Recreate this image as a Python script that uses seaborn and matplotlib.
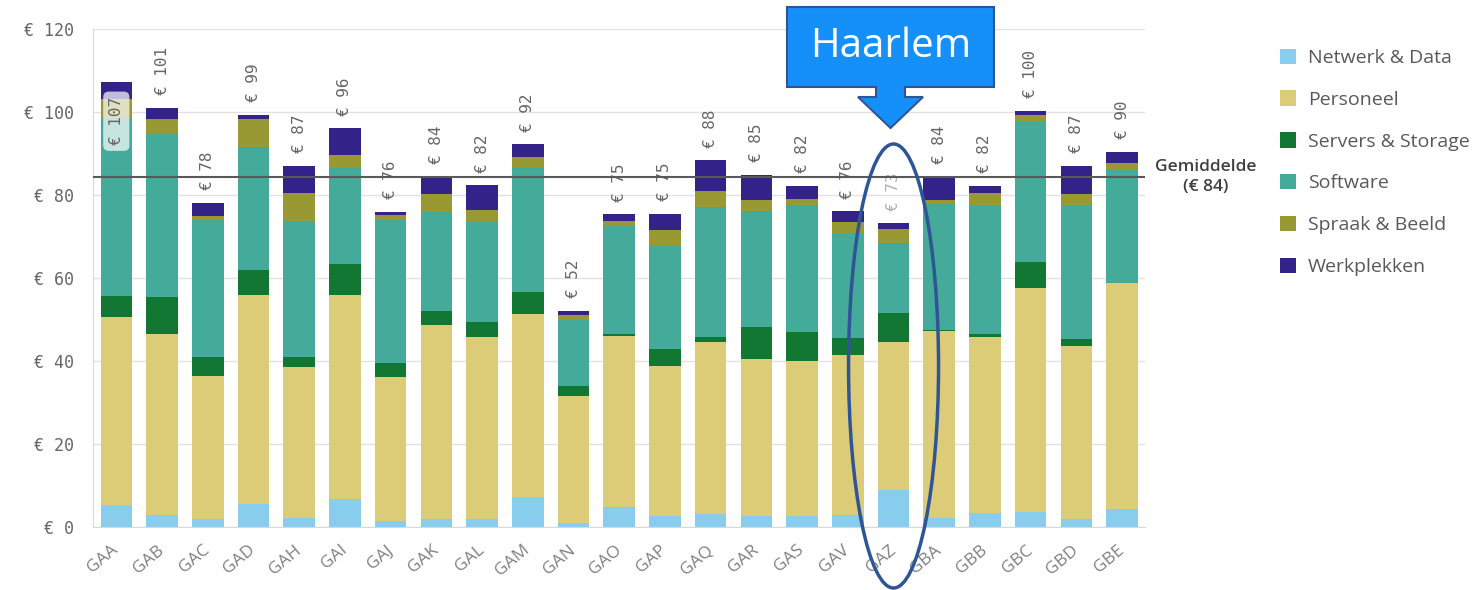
import numpy as np
import pandas as pd
import matplotlib
matplotlib.use('Agg')
import matplotlib.pyplot as plt
import seaborn as sns
from matplotlib.patches import Polygon, Ellipse

# gemeenten (x-as) en kostencategorieen
gemeenten = ['GAA', 'GAB', 'GAC', 'GAD', 'GAH', 'GAI', 'GAJ', 'GAK', 'GAL', 'GAM', 'GAN', 'GAO',
             'GAP', 'GAQ', 'GAR', 'GAS', 'GAV', 'GAZ', 'GBA', 'GBB', 'GBC', 'GBD', 'GBE']
categorieen = ['Netwerk & Data', 'Personeel', 'Servers & Storage', 'Software', 'Spraak & Beeld', 'Werkplekken']
kleuren = ['#88CCEE', '#DDCC77', '#117733', '#44AA99', '#999933', '#332288']

# kosten per inwoner (EUR)
netwerk = [5.4, 3.0, 2.0, 5.6, 2.2, 6.8, 1.4, 1.9, 1.9, 7.2, 1.1, 5.0,
           2.7, 3.2, 2.7, 2.7, 3.0, 9.0, 2.2, 3.4, 3.8, 2.0, 4.3]
personeel = [45.3, 43.5, 34.4, 50.2, 36.3, 49.2, 34.8, 46.8, 44.0, 44.1, 30.5, 41.0,
             36.1, 41.4, 37.7, 37.4, 38.5, 35.7, 45.1, 42.5, 53.7, 41.6, 54.6]
servers = [4.9, 8.8, 4.5, 6.1, 2.4, 7.4, 3.3, 3.4, 3.6, 5.3, 2.4, 0.4,
           4.0, 1.1, 7.7, 7.0, 4.0, 6.8, 0.2, 0.6, 6.3, 1.8, 0.0]
software = [43.0, 39.3, 33.0, 29.6, 32.7, 23.1, 34.4, 23.8, 23.9, 29.8, 15.9, 26.1,
            25.0, 31.3, 28.1, 30.4, 25.2, 16.8, 30.2, 31.0, 34.0, 32.1, 27.0]
spraak = [4.4, 3.7, 1.0, 6.8, 6.8, 3.0, 1.2, 4.2, 2.9, 2.8, 1.2, 1.2,
          3.7, 4.0, 2.5, 1.6, 2.7, 3.4, 1.0, 2.9, 1.4, 2.6, 1.7]
werkplekken = [4.1, 2.7, 3.2, 1.0, 6.6, 6.5, 0.8, 4.3, 6.0, 3.0, 1.0, 1.6,
               3.9, 7.3, 6.1, 3.1, 2.7, 1.5, 5.7, 1.8, 1.0, 6.9, 2.8]
gemiddelde = 84.3
haarlem = 'GAZ'

df = pd.DataFrame({'Netwerk & Data': netwerk, 'Personeel': personeel,
                   'Servers & Storage': servers, 'Software': software,
                   'Spraak & Beeld': spraak, 'Werkplekken': werkplekken}, index=gemeenten)
cum = df[categorieen].cumsum(axis=1)
totaal = cum[categorieen[-1]]

sns.set_style('white')
plt.rcParams['font.family'] = ['Open Sans', 'DejaVu Sans']

W, H = 1478, 590
fig = plt.figure(figsize=(W / 100, H / 100), dpi=100)
ax = fig.add_axes([93 / W, 1 - 527.3 / H, (1145 - 93) / W, (527.3 - 28.6) / H])

# gestapelde staven: cumulatieve hoogtes van boven naar beneden tekenen
for cat, kleur in reversed(list(zip(categorieen, kleuren))):
    sns.barplot(x=gemeenten, y=cum[cat].values, color=kleur, saturation=1, width=0.69,
                linewidth=0, errorbar=None, label=cat, ax=ax)

ax.set_xlim(-0.51, 22.5)
ax.set_ylim(0, 120)
ax.set_xlabel('')
ax.set_ylabel('')

ax.yaxis.grid(True, color='#e2e2e2', lw=1)
ax.set_axisbelow(True)
for s in ['top', 'right']:
    ax.spines[s].set_visible(False)
for s in ['left', 'bottom']:
    ax.spines[s].set_color('#d9d9d9')

yt = list(range(0, 121, 20))
ax.set_yticks(yt)
ax.set_yticklabels([f'€ {v}' for v in yt], family='DejaVu Sans Mono', fontsize=12, color='#666666')
ax.tick_params(axis='y', length=9, color='#e2e2e2', pad=5)

ax.set_xticks(range(len(gemeenten)))
ax.set_xticklabels(gemeenten, rotation=40, ha='right', va='center', rotation_mode='anchor',
                   fontsize=12.5, color='#808080')
ax.tick_params(axis='x', length=0, pad=15)

# totalen boven de staven
for i, (g, t) in enumerate(zip(gemeenten, totaal)):
    lab = f'€ {int(round(t))}'
    kleur_t = '#b0b0b0' if g == haarlem else '#666666'
    if t > 104:
        ax.text(i, t - 3.6, lab, rotation=90, ha='center', va='top', family='DejaVu Sans Mono',
                fontsize=11.5, color=kleur_t, zorder=5,
                bbox=dict(boxstyle='round,pad=0.35', fc='white', ec='none', alpha=0.7))
    else:
        ax.annotate(lab, (i, t), xytext=(0, 9), textcoords='offset points', rotation=90,
                    ha='center', va='bottom', family='DejaVu Sans Mono', fontsize=11.5,
                    color=kleur_t)

# gemiddelde lijn
ax.axhline(gemiddelde, color='#595959', lw=1.5, zorder=4)
fig.text(1206 / W, 1 - 177 / H, f'Gemiddelde\n(€ {int(gemiddelde)})', ha='center', va='center',
         fontsize=12.5, color='#404040', fontweight='semibold', linespacing=1.3)

handles, labels = ax.get_legend_handles_labels()
ax.legend(handles[::-1], labels[::-1], loc='upper left', bbox_to_anchor=(1262 / W, 1 - 31 / H),
          bbox_transform=fig.transFigure, frameon=False, fontsize=14, handlelength=0.85,
          handleheight=0.85, handletextpad=0.6, labelspacing=1.2, labelcolor='#595959')

# Haarlem markering
idx = gemeenten.index(haarlem)
hx = ax.transData.transform((idx, 0))[0]
callout = [(787, 7), (994, 7), (994, 87), (905, 87), (905, 97), (923, 97), (hx - 3, 128),
           (858, 97), (876, 97), (876, 87), (787, 87)]
fig.add_artist(Polygon([(x / W, 1 - y / H) for x, y in callout], closed=True, transform=fig.transFigure,
                       fc='#1590F8', ec='#2F5597', lw=1.5, zorder=10))
fig.text(891 / W, 1 - 47 / H, 'Haarlem', color='white', fontsize=29, ha='center', va='center', zorder=11)
fig.add_artist(Ellipse((hx / W, 1 - 366 / H), 90 / W, 444 / H, transform=fig.transFigure,
                       fill=False, ec='#2F5597', lw=2.5, zorder=10))

fig.savefig('out.png', dpi=100)
